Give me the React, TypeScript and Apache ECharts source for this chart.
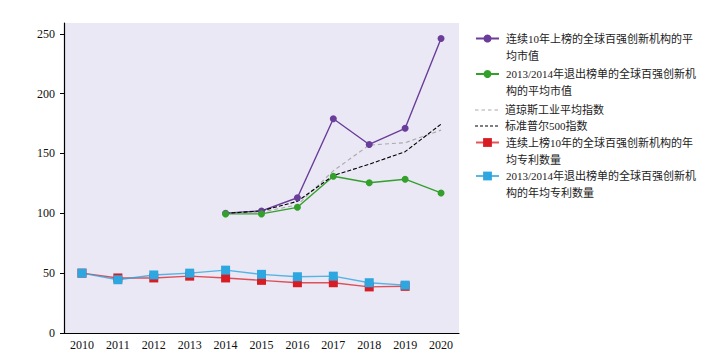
import React, { useEffect, useRef } from "react";
import * as echarts from "echarts";

const years = ["2010", "2011", "2012", "2013", "2014", "2015", "2016", "2017", "2018", "2019", "2020"];
const yTicks = [0, 50, 100, 150, 200, 250];

const purpleName = "连续10年上榜的全球百强创新机构的平均市值";
const greenName = "2013/2014年退出榜单的全球百强创新机构的平均市值";
const grayName = "道琼斯工业平均指数";
const blackName = "标准普尔500指数";
const redName = "连续上榜10年的全球百强创新机构的年均专利数量";
const blueName = "2013/2014年退出榜单的全球百强创新机构的年均专利数量";

const purpleVals = [null, null, null, null, 100, 102, 113, 179, 157.5, 171, 246];
const greenVals = [null, null, null, null, 99.5, 99.5, 105, 131, 125.5, 128.5, 117];
const grayVals = [null, null, null, null, 100, 101, 107, 135.5, 157, 159, 169.5];
const blackVals = [null, null, null, null, 100, 102, 110, 131.5, 141, 151.5, 174.5];
const redVals = [50, 46, 46, 47.5, 46, 44, 42, 42, 38.5, 39, null];
const blueVals = [50, 44.5, 48.5, 50, 52.5, 49, 47, 47.5, 42, 40, null];

const legendLines: Record<string, string> = {
  [purpleName]: "\n连续10年上榜的全球百强创新机构的平\n均市值",
  [greenName]: "\n2013/2014年退出榜单的全球百强创新机\n构的平均市值",
  [grayName]: "道琼斯工业平均指数",
  [blackName]: "标准普尔500指数",
  [redName]: "\n连续上榜10年的全球百强创新机构的年\n均专利数量",
  [blueName]: "\n2013/2014年退出榜单的全球百强创新机\n构的年均专利数量",
};

const grayDash = "path://M0,0h3.5v1.2h-3.5z M6.5,0h3.5v1.2h-3.5z M13,0h3.5v1.2h-3.5z M19.5,0h3.5v1.2h-3.5z";
const blackDash = "path://M0,0h3v1.2h-3z M5,0h3v1.2h-3z M10,0h3v1.2h-3z M15,0h3v1.2h-3z M20,0h3v1.2h-3z";

const FONT = "'Liberation Serif', 'Noto Sans CJK SC', serif";

export default function App() {
  const ref = useRef<HTMLDivElement>(null);
  useEffect(() => {
    if (!ref.current) return;
    const chart = echarts.init(ref.current, undefined, { renderer: "svg" });
    const mkLegend = (name: string, top: number, itemHeight: number, icon?: string) => ({
      show: true,
      orient: "vertical",
      left: 475,
      top,
      padding: 0,
      itemWidth: 23,
      itemHeight,
      data: [icon ? { name, icon } : name],
      formatter: (n: string) => legendLines[n],
      textStyle: {
        fontFamily: FONT,
        fontSize: 11,
        color: "#222",
        lineHeight: 17,
        padding: [0, 0, 0, 2],
      },
    });
    const lineSeries = (
      name: string,
      data: (number | null)[],
      color: string,
      symbol: string,
      symbolSize: number,
      dash: any,
      opacity = 1
    ) => ({
      name,
      type: "line",
      data,
      symbol,
      symbolSize,
      showSymbol: symbol !== "none",
      color,
      itemStyle: { color },
      lineStyle: { color, width: symbol === "none" ? 1.1 : 1.4, type: dash, opacity },
      connectNulls: false,
    });
    chart.setOption({
      animation: false,
      backgroundColor: "#ffffff",
      textStyle: { fontFamily: FONT },
      grid: { left: 64, right: 261, top: 23, bottom: 29, show: true, backgroundColor: "#eae8f5", borderWidth: 0 },
      legend: [
        mkLegend(purpleName, 13, 10),
        mkLegend(greenName, 48.5, 10),
        mkLegend(grayName, 101.5, 1.2, grayDash),
        mkLegend(blackName, 117.5, 1.2, blackDash),
        mkLegend(redName, 117, 11),
        mkLegend(blueName, 150.5, 11),
      ],
      xAxis: {
        type: "category",
        data: years,
        boundaryGap: true,
        axisLine: { lineStyle: { color: "#000", width: 1.2 } },
        axisTick: { alignWithLabel: true, length: 4, lineStyle: { color: "#000" } },
        axisLabel: { fontFamily: FONT, fontSize: 12, color: "#111", margin: 6 },
        splitLine: { show: false },
      },
      yAxis: {
        type: "value",
        min: 0,
        max: 259,
        interval: 50,
        axisLine: { show: true, lineStyle: { color: "#000", width: 1.2 } },
        axisTick: { show: true, length: 4, lineStyle: { color: "#000" }, customValues: yTicks },
        axisLabel: { fontFamily: FONT, fontSize: 12, color: "#111", margin: 9, customValues: yTicks },
        splitLine: { show: false },
      },
      series: [
        lineSeries(purpleName, purpleVals, "#6a3d9a", "circle", 7, "solid"),
        lineSeries(greenName, greenVals, "#33a02c", "circle", 7, "solid"),
        lineSeries(grayName, grayVals, "#aaaaaa", "none", 0, [4, 3]),
        lineSeries(blackName, blackVals, "#000000", "none", 0, [4, 2]),
        lineSeries(redName, redVals, "#d81c24", "rect", 9, "solid", 0.75),
        lineSeries(blueName, blueVals, "#2ea6e0", "rect", 9, "solid", 0.8),
      ],
    });
    return () => chart.dispose();
  }, []);
  return <div ref={ref} style={{ position: "fixed", left: 0, top: 0, width: 720, height: 362 }} />;
}
